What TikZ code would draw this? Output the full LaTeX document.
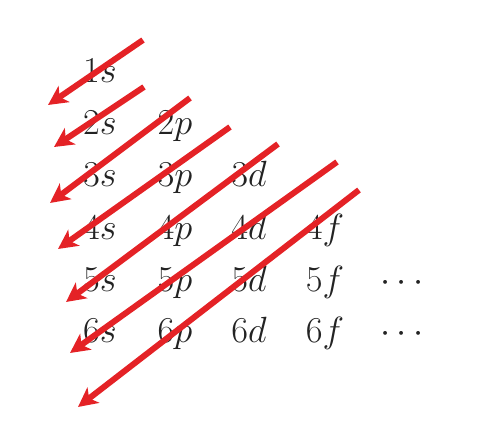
\documentclass[tikz,border=0pt]{standalone}
\usetikzlibrary{arrows.meta}
\definecolor{arrowred}{RGB}{228,34,38}
\definecolor{orbtext}{RGB}{35,35,35}
\tikzset{
 orb/.style={anchor=base,text=orbtext,font=\fontsize{21}{24}\selectfont,inner sep=0pt},
 fill arrow/.style={arrowred,line width=3.4pt,-{Stealth[length=11pt,width=11pt,inset=3pt]}}
}
\begin{document}
\begin{tikzpicture}
 \useasboundingbox (0,0) rectangle (9.86,8.52);
 % orbitals, row by row
 \node[orb] (o1s) at (2.0,6.86) {$1s$};
 \node[orb] (o2s) at (2.0,5.82) {$2s$};
 \node[orb] (o2p) at (3.5,5.82) {$2p$};
 \node[orb] (o3s) at (2.0,4.78) {$3s$};
 \node[orb] (o3p) at (3.5,4.78) {$3p$};
 \node[orb] (o3d) at (4.98,4.78) {$3d$};
 \node[orb] (o4s) at (2.0,3.72) {$4s$};
 \node[orb] (o4p) at (3.5,3.72) {$4p$};
 \node[orb] (o4d) at (4.98,3.72) {$4d$};
 \node[orb] (o4f) at (6.5,3.72) {$4f$};
 \node[orb] (o5s) at (2.0,2.68) {$5s$};
 \node[orb] (o5p) at (3.5,2.68) {$5p$};
 \node[orb] (o5d) at (4.98,2.68) {$5d$};
 \node[orb] (o5f) at (6.5,2.68) {$5f$};
 \node[orb] (o5x) at (8.04,2.68) {$\cdots$};
 \node[orb] (o6s) at (2.0,1.66) {$6s$};
 \node[orb] (o6p) at (3.5,1.66) {$6p$};
 \node[orb] (o6d) at (4.98,1.66) {$6d$};
 \node[orb] (o6f) at (6.5,1.66) {$6f$};
 \node[orb] (o6x) at (8.04,1.66) {$\cdots$};
 % filling order
 \foreach \i/\xa/\ya/\xb/\yb in {1/2.86/7.72/0.96/6.42, 2/2.88/6.78/1.08/5.58,
   3/3.80/6.56/1.00/4.46, 4/4.60/5.98/1.16/3.54, 5/5.56/5.64/1.32/2.48,
   6/6.74/5.28/1.40/1.46, 7/7.18/4.72/1.56/0.38}{
  \coordinate (a\i) at (\xa,\ya);
  \coordinate (b\i) at (\xb,\yb);
  \draw[fill arrow] (a\i)--(b\i);
 }
\end{tikzpicture}
\end{document}
